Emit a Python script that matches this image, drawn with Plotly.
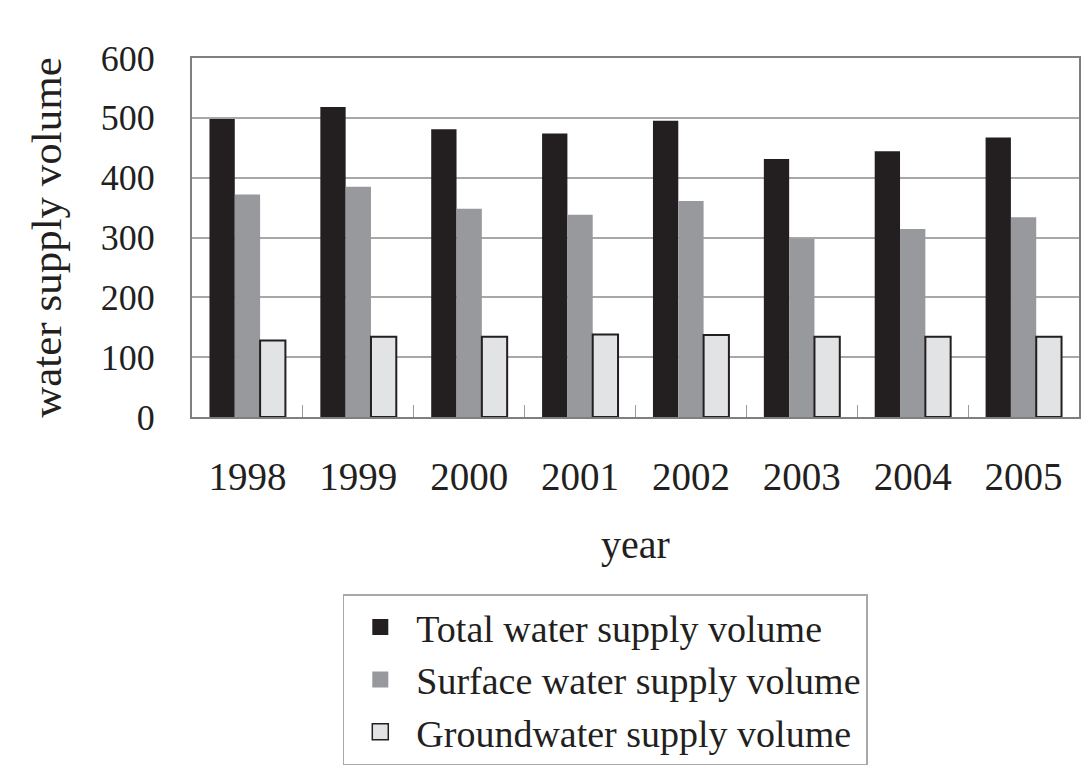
import plotly.graph_objects as go

years = ["1998", "1999", "2000", "2001", "2002", "2003", "2004", "2005"]
total = [498, 518, 481, 474, 495, 431, 444, 467]
surface = [372, 385, 348, 338, 361, 298, 314, 334]
ground = [128, 134, 134, 138, 137, 134, 134, 134]
y_ticks = [0, 100, 200, 300, 400, 500, 600]

names = ["Total water supply volume", "Surface water supply volume", "Groundwater supply volume"]
fills = ["#231f20", "#98999c", "#e2e3e5"]
edges = ["#231f20", "#98999c", "#231f20"]
edge_w = [0, 0, 2]

FONT = "Liberation Serif"
INK = "#231f20"

fig = go.Figure()
for vals, name, fc, ec, ew in zip([total, surface, ground], names, fills, edges, edge_w):
    fig.add_trace(go.Bar(
        x=years, y=vals, name=name, showlegend=False,
        marker=dict(color=fc, line=dict(color=ec, width=ew)),
    ))
# legend proxies with larger square symbols
for name, fc, ec, ew in zip(names, fills, edges, [0, 0, 1.5]):
    fig.add_trace(go.Scatter(
        x=[None], y=[None], mode="markers", name=name,
        marker=dict(symbol="square", size=16, color=fc, line=dict(color=ec, width=ew)),
    ))

fig.update_layout(
    width=1083, height=767,
    margin=dict(l=192, r=2, t=58, b=348),
    paper_bgcolor="white", plot_bgcolor="white",
    barmode="group", bargap=0.315, bargroupgap=0,
    font=dict(family=FONT, color=INK),
    showlegend=True,
    legend=dict(
        x=0.17, y=-0.494, xanchor="left", yanchor="top",
        bordercolor="#a8a8a8", borderwidth=1.5, bgcolor="white",
        font=dict(family=FONT, size=38, color=INK),
        itemwidth=62, tracegroupgap=0,
    ),
    xaxis=dict(
        type="category", categoryorder="array", categoryarray=years,
        showline=True, linecolor="#7f7f7f", linewidth=2, mirror=True,
        ticks="inside", tickson="boundaries", ticklen=12, tickcolor="#9a9a9a", tickwidth=1,
        tickfont=dict(family=FONT, size=39, color=INK),
        ticklabelstandoff=24,
        title=dict(text="year", font=dict(family=FONT, size=40, color=INK), standoff=33),
        showgrid=False,
    ),
    yaxis=dict(
        range=[0, 600], tickvals=y_ticks,
        showline=True, linecolor="#7f7f7f", linewidth=2, mirror=True,
        showgrid=True, gridcolor="#a8a8a8", gridwidth=1.5,
        ticks="", tickfont=dict(family=FONT, size=36, color=INK),
        ticklabelstandoff=28,
        title=dict(text="water supply volume", font=dict(family=FONT, size=43, color=INK), standoff=26),
        zeroline=False,
    ),
)

fig.write_html("out.html", config={"displayModeBar": False},
               post_script="document.body.style.margin='0';")
